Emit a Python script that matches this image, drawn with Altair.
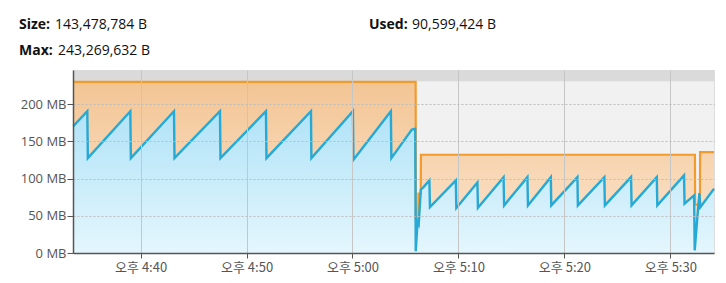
import altair as alt
import pandas as pd

# ---- data (time in minutes after 16:00, memory in MB) ----
used_t = [33.65, 34.97, 35.02, 39.03, 39.08, 43.15, 43.20, 47.49, 47.54, 51.83, 51.88,
          56.08, 56.12, 60.04, 60.09, 63.62, 63.67, 65.60, 65.92, 65.97, 66.14, 66.25,
          66.45, 66.70, 67.26, 67.31, 69.75, 69.80, 71.79, 71.84, 74.26, 74.31, 76.51,
          76.56, 78.72, 78.76, 81.23, 81.27, 83.77, 83.82, 86.29, 86.34, 88.72, 88.77,
          91.29, 91.34, 92.24, 92.30, 92.55, 92.74, 92.83, 94.12]
used_mb = [170.5, 190.6, 127.5, 190.6, 127.5, 190.6, 127.5, 190.6, 127.5, 190.6, 127.5,
           190.6, 127.5, 190.6, 125.4, 190.6, 127.5, 166.0, 167.0, 2.3, 41.6, 38.5,
           85.1, 88.6, 97.6, 61.7, 97.6, 60.4, 94.9, 60.9, 102.0, 64.0, 102.0,
           64.0, 102.0, 64.0, 102.0, 64.0, 102.0, 64.0, 102.0, 64.0, 102.0, 64.0,
           104.3, 66.3, 77.4, 3.6, 48.3, 80.5, 61.7, 86.4]

size_t = [33.65, 65.96, 65.98, 66.21, 66.23, 66.44, 66.46, 92.32, 92.34, 92.79, 92.81, 94.12]
size_mb = [230.0, 230.0, 45.2, 45.2, 79.7, 79.7, 132.1, 132.1, 65.0, 65.0, 135.5, 135.5]

max_mb = 230.5
x_domain = [33.62, 94.12]
y_domain = [0, 246]
tick_minutes = [40, 50, 60, 70, 80, 90]
tick_labels = ["오후 4:40", "오후 4:50", "오후 5:00", "오후 5:10", "오후 5:20", "오후 5:30"]
y_ticks = [0, 50, 100, 150, 200]

header_labels = ["Size:", "Used:", "Max:"]
header_values = ["143,478,784 B", "90,599,424 B", "243,269,632 B"]

# ---- tables ----
used_df = pd.DataFrame({"t": used_t, "mb": used_mb})
size_df = pd.DataFrame({"t": size_t, "mb": size_mb})
band_df = pd.DataFrame({"t": [x_domain[0]], "t2": [x_domain[1]],
                        "lo": [0], "mid": [max_mb], "hi": [y_domain[1]]})

label_expr = "[" + ",".join("'%s'" % s for s in tick_labels) + "][indexof([" + \
    ",".join(str(v) for v in tick_minutes) + "], datum.value)]"

x_scale = alt.Scale(domain=x_domain, nice=False, zero=False)
y_scale = alt.Scale(domain=y_domain, nice=False)

x_axis = alt.Axis(values=tick_minutes, labelExpr=label_expr, title=None,
                  grid=True, gridColor="#c6c6c6", gridWidth=1, zindex=1,
                  domainColor="#555555", domainWidth=1.5, tickColor="#555555",
                  tickSize=5, labelFont="Noto Sans CJK KR", labelFontSize=13,
                  labelColor="#555555", labelPadding=3)
y_axis = alt.Axis(values=y_ticks, labelExpr="datum.value + ' MB'", title=None,
                  grid=True, gridColor="#bdbdbd", gridDash=[2, 2], gridWidth=1,
                  zindex=1, domainColor="#555555", domainWidth=1.5,
                  tickColor="#555555", tickSize=6, labelFont="Open Sans",
                  labelFontSize=13, labelColor="#555555", labelPadding=1)

bg_light = alt.Chart(band_df).mark_rect(color="#f1f1f1").encode(
    x=alt.X("t:Q", scale=x_scale, axis=x_axis), x2="t2:Q",
    y=alt.Y("lo:Q", scale=y_scale, axis=y_axis), y2="mid:Q")
bg_dark = alt.Chart(band_df).mark_rect(color="#dadada").encode(
    x=alt.X("t:Q", scale=x_scale), x2="t2:Q",
    y=alt.Y("mid:Q", scale=y_scale), y2="hi:Q")

orange_fill = alt.Gradient(gradient="linear", x1=0, x2=0, y1=0, y2=1,
                           stops=[alt.GradientStop(color="#f3c594", offset=0),
                                  alt.GradientStop(color="#fbe7d2", offset=1)])
blue_fill = alt.Gradient(gradient="linear", x1=0, x2=0, y1=0, y2=1,
                         stops=[alt.GradientStop(color="#b0e3f7", offset=0),
                                alt.GradientStop(color="#e4f6fd", offset=1)])

size_area = alt.Chart(size_df).mark_area(color=orange_fill, opacity=1).encode(
    x=alt.X("t:Q", scale=x_scale), y=alt.Y("mb:Q", scale=y_scale, stack=None))
used_area = alt.Chart(used_df).mark_area(color=blue_fill, opacity=1).encode(
    x=alt.X("t:Q", scale=x_scale), y=alt.Y("mb:Q", scale=y_scale, stack=None))
size_line = alt.Chart(size_df).mark_line(color="#f39a2c", strokeWidth=2.2).encode(
    x=alt.X("t:Q", scale=x_scale), y=alt.Y("mb:Q", scale=y_scale))
used_line = alt.Chart(used_df).mark_line(color="#27a9d5", strokeWidth=2.4).encode(
    x=alt.X("t:Q", scale=x_scale), y=alt.Y("mb:Q", scale=y_scale))

# header texts (positions relative to plot origin)
header_pos = [(-54, -41, -18), (296, -41, 339), (-54, -15, -15)]
texts = []
for lab, val, (xl, yb, xv) in zip(header_labels, header_values, header_pos):
    texts.append(alt.Chart(pd.DataFrame({"s": [lab]})).mark_text(
        align="left", baseline="alphabetic", font="Open Sans", fontSize=14,
        fontWeight="bold", color="#111111").encode(
        text="s:N", x=alt.value(xl), y=alt.value(yb)))
    texts.append(alt.Chart(pd.DataFrame({"s": [val]})).mark_text(
        align="left", baseline="alphabetic", font="Open Sans", fontSize=14,
        color="#111111").encode(
        text="s:N", x=alt.value(xv), y=alt.value(yb)))

chart = alt.layer(bg_light, bg_dark, size_area, used_area, size_line, used_line,
                  *texts).properties(
    width=641, height=183,
    autosize=alt.AutoSizeParams(type="none"),
    padding={"left": 73, "top": 70, "right": 12, "bottom": 30},
).configure_view(strokeWidth=0).configure(background="white")

chart.save("out.html", embed_options={"renderer": "svg", "actions": False})
